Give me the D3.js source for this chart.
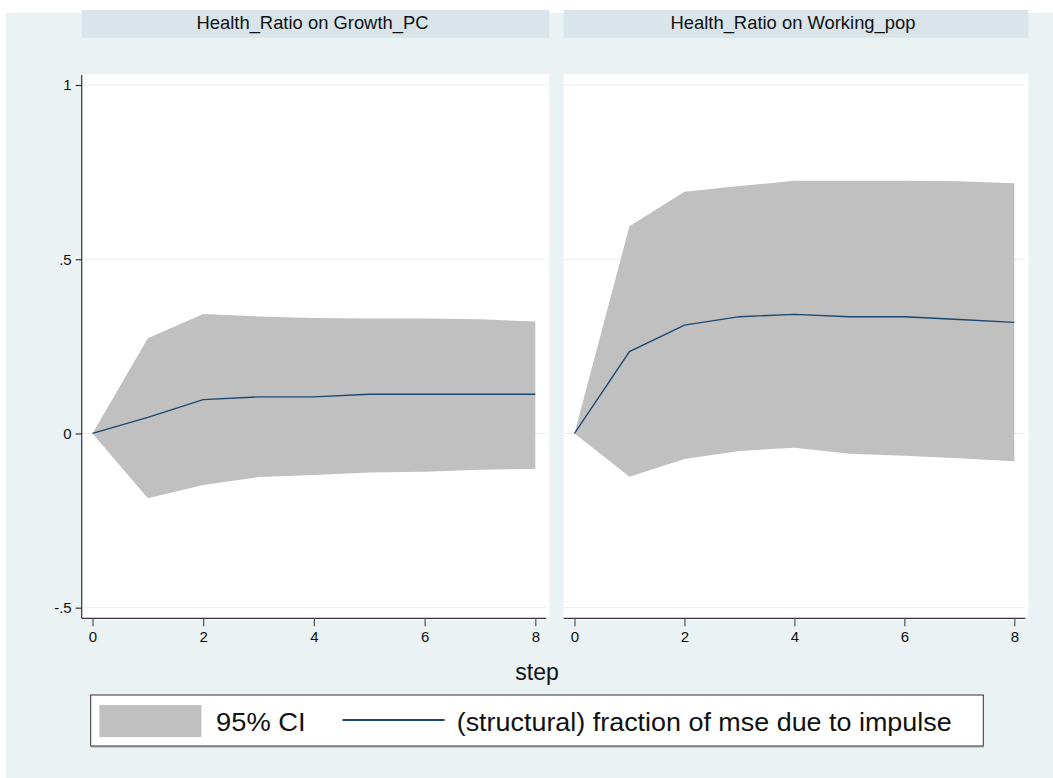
<!DOCTYPE html>
<html>
<head>
<meta charset="utf-8">
<script src="https://cdn.jsdelivr.net/npm/d3@7"></script>
<style>
  html, body { margin: 0; padding: 0; background: #ffffff; }
  svg { display: block; }
  text { font-family: "Liberation Sans", Arial, sans-serif; fill: #111; }
</style>
</head>
<body>
<svg id="chart" width="1053" height="778"></svg>
<script>
// ---------------- data ----------------
const steps = [0, 1, 2, 3, 4, 5, 6, 7, 8];
const panelTitles = ["Health_Ratio on Growth_PC", "Health_Ratio on Working_pop"];

const growthFevd = [0, 0.046, 0.097, 0.105, 0.105, 0.1125, 0.1125, 0.1125, 0.1125];
const growthLower = [0, -0.186, -0.148, -0.125, -0.119, -0.112, -0.110, -0.104, -0.102];
const growthUpper = [0, 0.273, 0.343, 0.336, 0.331, 0.330, 0.330, 0.328, 0.321];

const workFevd = [0, 0.235, 0.311, 0.335, 0.342, 0.335, 0.335, 0.327, 0.319];
const workLower = [0, -0.124, -0.073, -0.050, -0.041, -0.058, -0.064, -0.071, -0.080];
const workUpper = [0, 0.595, 0.694, 0.710, 0.725, 0.725, 0.725, 0.724, 0.718];

const yTicks = [-0.5, 0, 0.5, 1];
const yTickLabels = ["-.5", "0", ".5", "1"];
const xTicks = [0, 2, 4, 6, 8];
const xTitle = "step";
const legendLabels = ["95% CI", "(structural) fraction of mse due to impulse"];

// ---------------- styles ----------------
const BG = "#EAF2F3", STRIP = "#D9E5EB", CI = "#C0C0C0", LINE = "#1A476F", GRID = "#E3EDEF";

const svg = d3.select("#chart");
svg.append("rect").attr("x", 0).attr("y", 0).attr("width", 1053).attr("height", 778).attr("fill", "#fff");
svg.append("rect").attr("x", 6).attr("y", 12.7).attr("width", 1047).attr("height", 766).attr("fill", BG);

const plotTop = 74, plotBottom = 618.3;
const y = d3.scaleLinear().domain([-0.5, 1]).range([607.7, 85]);

const panels = [
  { left: 81.7, right: 549.3, title: panelTitles[0], fevd: growthFevd, lo: growthLower, hi: growthUpper, yaxis: true },
  { left: 563.7, right: 1028.3, title: panelTitles[1], fevd: workFevd, lo: workLower, hi: workUpper, yaxis: false }
];

panels.forEach(p => {
  const g = svg.append("g");
  const x = d3.scaleLinear().domain([0, 8]).range([p.left + 10.8, p.right - 14]);

  // strip header
  g.append("rect").attr("x", p.left).attr("y", 10).attr("width", p.right - p.left).attr("height", 27.7).attr("fill", STRIP);
  g.append("text").attr("x", (p.left + p.right) / 2 - 3).attr("y", 28.5)
    .attr("text-anchor", "middle").style("font-size", "18.4px").text(p.title);

  // plot region
  g.append("rect").attr("x", p.left).attr("y", plotTop).attr("width", p.right - p.left)
    .attr("height", plotBottom - plotTop + 1.5).attr("fill", "#fff");

  // grid lines
  g.selectAll(".grid").data(yTicks).enter().append("line")
    .attr("x1", p.left).attr("x2", p.right - 3.5)
    .attr("y1", d => y(d)).attr("y2", d => y(d))
    .attr("stroke", GRID).attr("stroke-width", 1);

  const data = steps.map((s, i) => ({ s, v: p.fevd[i], lo: p.lo[i], hi: p.hi[i] }));

  // CI band
  g.append("path").datum(data)
    .attr("d", d3.area().x(d => x(d.s)).y0(d => y(d.lo)).y1(d => y(d.hi)))
    .attr("fill", CI);

  // fevd line
  g.append("path").datum(data)
    .attr("d", d3.line().x(d => x(d.s)).y(d => y(d.v)))
    .attr("fill", "none").attr("stroke", LINE).attr("stroke-width", 1.3);

  // x axis
  const xa = g.append("g").attr("transform", `translate(0,${plotBottom})`)
    .call(d3.axisBottom(x).tickValues(xTicks).tickFormat(d3.format("d")).tickSize(8).tickPadding(5).tickSizeOuter(0));
  xa.select(".domain").attr("d", `M${p.left},0H${p.right - 3}`).attr("stroke", "#333").attr("stroke-width", 1.2);
  xa.selectAll(".tick line").attr("stroke", "#555").attr("stroke-width", 1.2);
  xa.selectAll(".tick text").style("font-size", "15px").style("font-family", "Liberation Sans, Arial, sans-serif").attr("fill", "#111");

  if (p.yaxis) {
    const ya = g.append("g").attr("transform", `translate(${p.left},0)`)
      .call(d3.axisLeft(y).tickValues(yTicks).tickFormat((d, i) => yTickLabels[i]).tickSize(6).tickPadding(4).tickSizeOuter(0));
    ya.select(".domain").attr("d", `M0,${plotTop + 1}V${plotBottom}`).attr("stroke", "#333").attr("stroke-width", 1.2);
    ya.selectAll(".tick line").attr("stroke", "#333").attr("stroke-width", 1.2);
    ya.selectAll(".tick text").style("font-size", "15px").style("font-family", "Liberation Sans, Arial, sans-serif").attr("fill", "#111");
  }
});

// x title
svg.append("text").attr("x", 537).attr("y", 680).attr("text-anchor", "middle")
  .style("font-size", "23px").text(xTitle);

// legend
const lg = svg.append("g");
lg.append("rect").attr("x", 90.7).attr("y", 695).attr("width", 892.6).attr("height", 51)
  .attr("fill", "#fff").attr("stroke", "#333").attr("stroke-width", 1);
lg.append("line").attr("x1", 91).attr("x2", 983.5).attr("y1", 746.8).attr("y2", 746.8)
  .attr("stroke", "#777").attr("stroke-width", 1);
lg.append("rect").attr("x", 99.4).attr("y", 705).attr("width", 102).attr("height", 32).attr("fill", CI);
lg.append("text").attr("x", 216).attr("y", 730.5).style("font-size", "25px")
  .attr("textLength", 89.6).attr("lengthAdjust", "spacingAndGlyphs").text(legendLabels[0]);
lg.append("line").attr("x1", 342.5).attr("x2", 444.6).attr("y1", 720).attr("y2", 720)
  .attr("stroke", LINE).attr("stroke-width", 2);
lg.append("text").attr("x", 456.7).attr("y", 730.5).style("font-size", "25px")
  .attr("textLength", 495).attr("lengthAdjust", "spacingAndGlyphs").text(legendLabels[1]);
</script>
</body>
</html>
